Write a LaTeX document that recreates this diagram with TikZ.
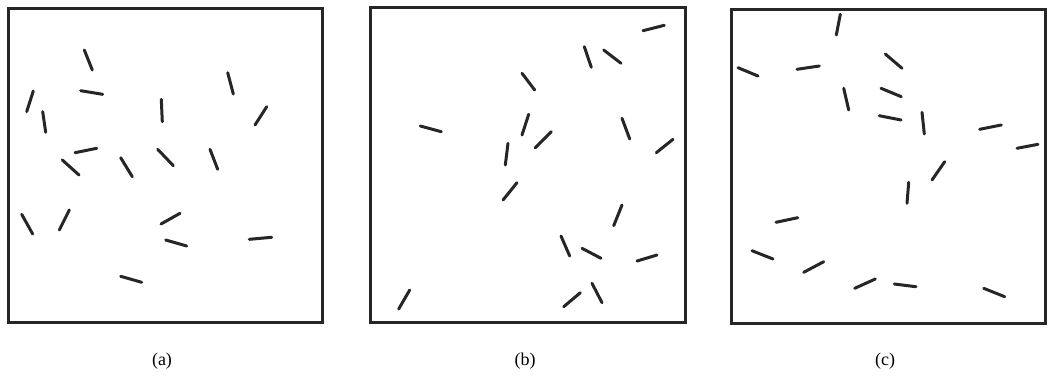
\documentclass[tikz,border=0pt]{standalone}
\usepackage{fontspec}
\setmainfont{Liberation Serif}
\begin{document}
\begin{tikzpicture}[x=1pt,y=-1pt,
  frame/.style={draw=black!85,line width=3pt},
  rod/.style={draw=black!85,line width=3pt,line cap=round},
  caption/.style={font=\fontsize{18}{20}\selectfont,inner sep=0pt}]
\useasboundingbox[fill=white] (0,0) rectangle (1048,381);
% panel frames
\draw[frame] (8.5,8.5) rectangle (322,322);
\draw[frame] (370,7) rectangle (685,322);
\draw[frame] (731,9) rectangle (1045,323);
% panel (a)
\foreach \a/\b/\c/\d in {84.3/50/92.3/70, 80.7/90.7/102.7/94.3, 33.3/91/26.7/111.7,
  42.7/111.7/45.7/132.3, 161.3/99.3/162.3/121.7, 227.7/72.7/233.3/94,
  266.7/106.7/255/125, 75/152.7/96.7/148.3, 62.3/160/79/175,
  120.7/157.7/132.3/176.7, 157.7/149.3/173.3/165.7, 210/149.3/217.7/169.3,
  21.7/214.3/32.7/234, 69.3/210/59.3/230, 161/224/180/213.3,
  165.7/240/186.7/246, 249.3/239.3/271.7/237.3, 120.7/276.3/141.7/282.3}
  \draw[rod] (\a,\b) -- (\c,\d);
% panel (b)
\foreach \a/\b/\c/\d in {643/30.7/664.3/25.3, 584.3/46.7/591.3/67.3, 603.7/50/621/63.3,
  522/73.3/534.7/90, 420.3/126/441.3/131.7, 528.7/114.3/522/135,
  551.3/131.7/535.3/147.7, 508/143.3/505.3/165, 622/118.3/629.7/139,
  673/139.3/656.3/152.7, 517/182.7/503/200, 622/205/613.7/225.7,
  561/236/569.7/256, 582/248.3/601/258.3, 637/261/657/255,
  409.7/290/398.7/309, 580.3/292.7/563.7/306.7, 592/283.3/602/302.7}
  \draw[rod] (\a,\b) -- (\c,\d);
% panel (c)
\foreach \a/\b/\c/\d in {840.3/14.3/836.3/35, 738/67.7/758/76, 797/69.3/819.3/66,
  885.3/54/902/68.3, 843.7/88.3/848.7/110, 881/88.3/901.3/96.7,
  879.3/115.7/901/120, 922/112.3/924.3/134, 979.7/129.3/1001.3/125,
  1017/148.3/1038/144.3, 944.7/161.7/932/180, 908.7/182.3/907/203.3,
  776/222.3/797.7/217.7, 752/250.7/773/259, 803.7/272.3/823.7/261.7,
  854.7/288.3/875.3/279, 894.3/284/916/286.7, 983.7/288.3/1004.7/296.7}
  \draw[rod] (\a,\b) -- (\c,\d);
% captions
\node[caption] (capa) at (162,361) {(a)};
\node[caption] (capb) at (525,361) {(b)};
\node[caption] (capc) at (885,361) {(c)};
\end{tikzpicture}
\end{document}
